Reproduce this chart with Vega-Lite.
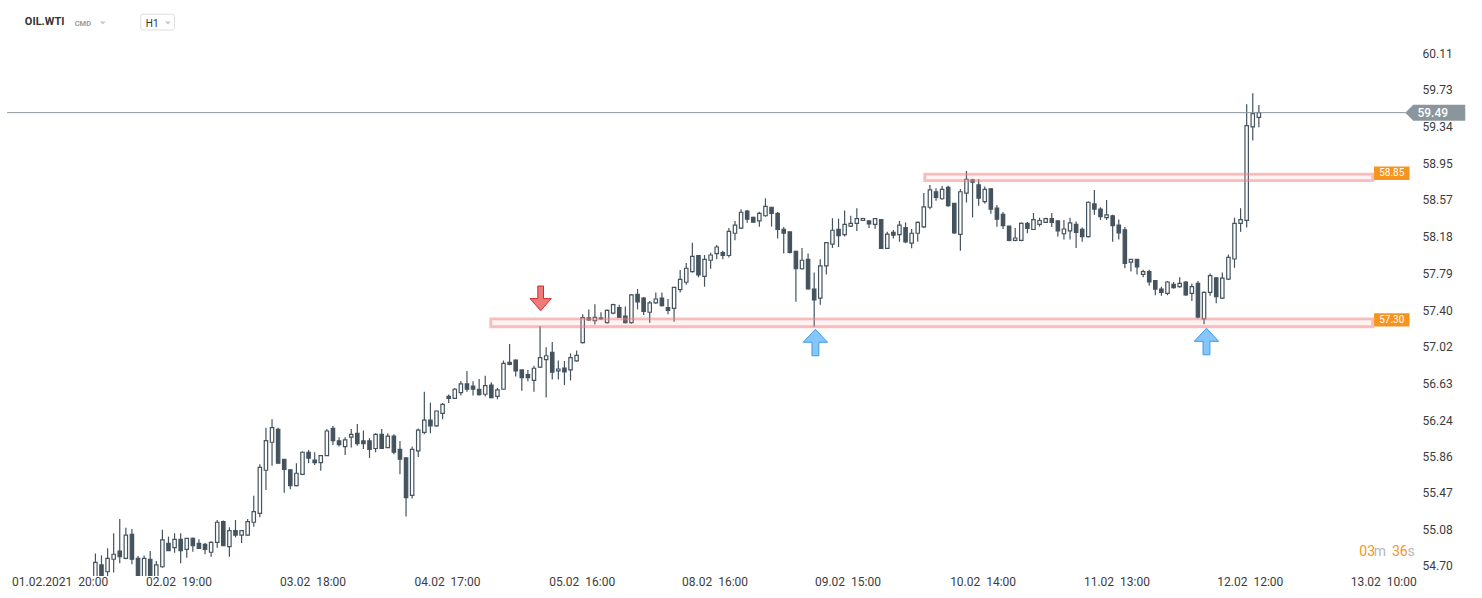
{
  "$schema": "https://vega.github.io/schema/vega-lite/v6.json",
  "width": 1482,
  "height": 576,
  "autosize": {"type": "none"},
  "padding": {"left": 0, "top": 0, "right": 0, "bottom": 22},
  "background": "#ffffff",
  "config": {"view": {"stroke": null}, "font": "Roboto"},
  "datasets": {
    "candles": [
      {"i":0,"o":54.55,"h":54.83,"l":54.45,"c":54.737},
      {"i":1,"o":54.71,"h":54.81,"l":54.45,"c":54.55},
      {"i":2,"o":54.637,"h":54.885,"l":54.55,"c":54.779},
      {"i":3,"o":54.769,"h":55.044,"l":54.63,"c":54.822},
      {"i":4,"o":54.856,"h":55.195,"l":54.727,"c":54.796},
      {"i":5,"o":54.779,"h":55.103,"l":54.77,"c":55.025},
      {"i":6,"o":55.033,"h":55.089,"l":54.716,"c":54.769},
      {"i":7,"o":54.779,"h":54.804,"l":54.5,"c":54.58},
      {"i":8,"o":54.58,"h":54.81,"l":54.5,"c":54.779},
      {"i":9,"o":54.769,"h":54.856,"l":54.5,"c":54.58},
      {"i":10,"o":54.58,"h":54.75,"l":54.5,"c":54.71},
      {"i":11,"o":54.69,"h":55.08,"l":54.68,"c":54.973},
      {"i":12,"o":54.938,"h":55.008,"l":54.86,"c":54.86},
      {"i":13,"o":54.891,"h":55.044,"l":54.838,"c":54.98},
      {"i":14,"o":54.98,"h":55.044,"l":54.727,"c":54.86},
      {"i":15,"o":54.874,"h":54.99,"l":54.785,"c":54.99},
      {"i":16,"o":54.99,"h":55.0,"l":54.849,"c":54.912},
      {"i":17,"o":54.938,"h":54.98,"l":54.885,"c":54.885},
      {"i":18,"o":54.927,"h":54.94,"l":54.822,"c":54.874},
      {"i":19,"o":54.843,"h":54.96,"l":54.796,"c":54.948},
      {"i":20,"o":54.948,"h":55.184,"l":54.891,"c":55.16},
      {"i":21,"o":55.166,"h":55.18,"l":54.91,"c":54.912},
      {"i":22,"o":54.902,"h":55.107,"l":54.796,"c":55.071},
      {"i":23,"o":55.071,"h":55.184,"l":55.0,"c":55.025},
      {"i":24,"o":55.025,"h":55.075,"l":54.94,"c":55.071},
      {"i":25,"o":55.025,"h":55.195,"l":55.02,"c":55.166},
      {"i":26,"o":55.16,"h":55.441,"l":55.113,"c":55.272},
      {"i":27,"o":55.255,"h":55.773,"l":55.213,"c":55.741},
      {"i":28,"o":55.71,"h":56.16,"l":55.501,"c":56.023},
      {"i":29,"o":56.006,"h":56.248,"l":55.758,"c":56.16},
      {"i":30,"o":56.143,"h":56.16,"l":55.78,"c":55.784},
      {"i":31,"o":55.826,"h":55.83,"l":55.472,"c":55.72},
      {"i":32,"o":55.713,"h":55.72,"l":55.51,"c":55.547},
      {"i":33,"o":55.547,"h":55.784,"l":55.54,"c":55.678},
      {"i":34,"o":55.667,"h":55.91,"l":55.66,"c":55.9},
      {"i":35,"o":55.9,"h":55.925,"l":55.784,"c":55.837},
      {"i":36,"o":55.818,"h":55.9,"l":55.765,"c":55.79},
      {"i":37,"o":55.79,"h":55.87,"l":55.705,"c":55.864},
      {"i":38,"o":55.864,"h":56.146,"l":55.86,"c":56.125},
      {"i":39,"o":56.153,"h":56.178,"l":55.977,"c":56.023},
      {"i":40,"o":56.02,"h":56.06,"l":55.96,"c":55.98},
      {"i":41,"o":55.96,"h":56.06,"l":55.871,"c":56.03},
      {"i":42,"o":56.06,"h":56.146,"l":55.95,"c":56.09},
      {"i":43,"o":56.1,"h":56.2,"l":55.97,"c":55.99},
      {"i":44,"o":56.02,"h":56.13,"l":55.935,"c":55.99},
      {"i":45,"o":56.02,"h":56.05,"l":55.84,"c":55.93},
      {"i":46,"o":55.94,"h":56.1,"l":55.9,"c":56.09},
      {"i":47,"o":56.09,"h":56.146,"l":55.94,"c":55.94},
      {"i":48,"o":55.95,"h":56.1,"l":55.95,"c":56.07},
      {"i":49,"o":56.07,"h":56.09,"l":55.88,"c":55.9},
      {"i":50,"o":55.93,"h":56.02,"l":55.667,"c":55.826},
      {"i":51,"o":55.84,"h":55.845,"l":55.22,"c":55.42},
      {"i":52,"o":55.445,"h":55.96,"l":55.41,"c":55.93},
      {"i":53,"o":55.914,"h":56.15,"l":55.85,"c":56.135},
      {"i":54,"o":56.11,"h":56.54,"l":56.09,"c":56.24},
      {"i":55,"o":56.24,"h":56.424,"l":56.1,"c":56.18},
      {"i":56,"o":56.18,"h":56.34,"l":56.17,"c":56.336},
      {"i":57,"o":56.312,"h":56.42,"l":56.248,"c":56.406},
      {"i":58,"o":56.49,"h":56.51,"l":56.42,"c":56.47},
      {"i":59,"o":56.47,"h":56.58,"l":56.47,"c":56.566},
      {"i":60,"o":56.53,"h":56.654,"l":56.5,"c":56.622},
      {"i":61,"o":56.622,"h":56.76,"l":56.54,"c":56.566},
      {"i":62,"o":56.6,"h":56.65,"l":56.5,"c":56.566},
      {"i":63,"o":56.566,"h":56.675,"l":56.5,"c":56.51},
      {"i":64,"o":56.513,"h":56.71,"l":56.49,"c":56.604},
      {"i":65,"o":56.61,"h":56.64,"l":56.47,"c":56.477},
      {"i":66,"o":56.49,"h":56.58,"l":56.46,"c":56.56},
      {"i":67,"o":56.566,"h":56.87,"l":56.56,"c":56.84},
      {"i":68,"o":56.85,"h":57.044,"l":56.82,"c":56.83},
      {"i":69,"o":56.875,"h":56.88,"l":56.7,"c":56.76},
      {"i":70,"o":56.77,"h":56.77,"l":56.55,"c":56.69},
      {"i":71,"o":56.72,"h":56.77,"l":56.65,"c":56.69},
      {"i":72,"o":56.66,"h":56.815,"l":56.54,"c":56.788},
      {"i":73,"o":56.8,"h":57.235,"l":56.79,"c":56.9},
      {"i":74,"o":56.88,"h":57.01,"l":56.48,"c":56.92},
      {"i":75,"o":56.957,"h":57.066,"l":56.67,"c":56.746},
      {"i":76,"o":56.76,"h":56.87,"l":56.67,"c":56.78},
      {"i":77,"o":56.79,"h":56.865,"l":56.61,"c":56.75},
      {"i":78,"o":56.77,"h":56.946,"l":56.66,"c":56.9},
      {"i":79,"o":56.865,"h":56.975,"l":56.86,"c":56.925},
      {"i":80,"o":57.06,"h":57.36,"l":57.05,"c":57.323},
      {"i":81,"o":57.32,"h":57.41,"l":57.29,"c":57.3},
      {"i":82,"o":57.29,"h":57.465,"l":57.25,"c":57.325},
      {"i":83,"o":57.32,"h":57.38,"l":57.3,"c":57.31},
      {"i":84,"o":57.27,"h":57.41,"l":57.26,"c":57.4},
      {"i":85,"o":57.37,"h":57.47,"l":57.36,"c":57.46},
      {"i":86,"o":57.43,"h":57.46,"l":57.32,"c":57.325},
      {"i":87,"o":57.34,"h":57.44,"l":57.26,"c":57.27},
      {"i":88,"o":57.27,"h":57.57,"l":57.26,"c":57.563},
      {"i":89,"o":57.57,"h":57.626,"l":57.41,"c":57.49},
      {"i":90,"o":57.53,"h":57.54,"l":57.35,"c":57.39},
      {"i":91,"o":57.38,"h":57.5,"l":57.27,"c":57.48},
      {"i":92,"o":57.48,"h":57.59,"l":57.47,"c":57.52},
      {"i":93,"o":57.53,"h":57.59,"l":57.44,"c":57.45},
      {"i":94,"o":57.43,"h":57.52,"l":57.36,"c":57.4},
      {"i":95,"o":57.42,"h":57.65,"l":57.28,"c":57.644},
      {"i":96,"o":57.62,"h":57.826,"l":57.59,"c":57.728},
      {"i":97,"o":57.697,"h":57.9,"l":57.67,"c":57.845},
      {"i":98,"o":57.81,"h":58.115,"l":57.8,"c":57.97},
      {"i":99,"o":57.98,"h":57.98,"l":57.75,"c":57.776},
      {"i":100,"o":57.76,"h":57.985,"l":57.65,"c":57.94},
      {"i":101,"o":57.93,"h":58.01,"l":57.84,"c":57.985},
      {"i":102,"o":58.0,"h":58.09,"l":57.94,"c":58.07},
      {"i":103,"o":58.01,"h":58.03,"l":57.94,"c":57.98},
      {"i":104,"o":57.98,"h":58.27,"l":57.96,"c":58.236},
      {"i":105,"o":58.215,"h":58.345,"l":58.14,"c":58.302},
      {"i":106,"o":58.27,"h":58.47,"l":58.26,"c":58.437},
      {"i":107,"o":58.45,"h":58.46,"l":58.327,"c":58.363},
      {"i":108,"o":58.384,"h":58.39,"l":58.33,"c":58.332},
      {"i":109,"o":58.345,"h":58.443,"l":58.285,"c":58.426},
      {"i":110,"o":58.4,"h":58.585,"l":58.39,"c":58.5},
      {"i":111,"o":58.49,"h":58.49,"l":58.285,"c":58.425},
      {"i":112,"o":58.426,"h":58.44,"l":58.16,"c":58.257},
      {"i":113,"o":58.257,"h":58.28,"l":58.0,"c":58.215},
      {"i":114,"o":58.23,"h":58.23,"l":58.0,"c":58.014},
      {"i":115,"o":58.025,"h":58.03,"l":57.49,"c":57.84},
      {"i":116,"o":57.84,"h":58.06,"l":57.83,"c":57.93},
      {"i":117,"o":57.94,"h":58.0,"l":57.62,"c":57.626},
      {"i":118,"o":57.626,"h":57.8,"l":57.227,"c":57.51},
      {"i":119,"o":57.53,"h":57.94,"l":57.46,"c":57.87},
      {"i":120,"o":57.87,"h":58.12,"l":57.78,"c":58.115},
      {"i":121,"o":58.1,"h":58.374,"l":58.06,"c":58.247},
      {"i":122,"o":58.257,"h":58.37,"l":58.07,"c":58.19},
      {"i":123,"o":58.2,"h":58.455,"l":58.18,"c":58.31},
      {"i":124,"o":58.29,"h":58.4,"l":58.28,"c":58.32},
      {"i":125,"o":58.32,"h":58.48,"l":58.24,"c":58.37},
      {"i":126,"o":58.35,"h":58.38,"l":58.35,"c":58.37},
      {"i":127,"o":58.345,"h":58.35,"l":58.27,"c":58.315},
      {"i":128,"o":58.31,"h":58.37,"l":58.26,"c":58.37},
      {"i":129,"o":58.36,"h":58.365,"l":58.05,"c":58.056},
      {"i":130,"o":58.056,"h":58.23,"l":58.05,"c":58.205},
      {"i":131,"o":58.225,"h":58.25,"l":58.16,"c":58.195},
      {"i":132,"o":58.2,"h":58.345,"l":58.125,"c":58.3},
      {"i":133,"o":58.275,"h":58.33,"l":58.11,"c":58.125},
      {"i":134,"o":58.11,"h":58.26,"l":58.056,"c":58.215},
      {"i":135,"o":58.215,"h":58.34,"l":58.125,"c":58.33},
      {"i":136,"o":58.283,"h":58.64,"l":58.27,"c":58.495},
      {"i":137,"o":58.49,"h":58.726,"l":58.47,"c":58.673},
      {"i":138,"o":58.654,"h":58.69,"l":58.56,"c":58.595},
      {"i":139,"o":58.58,"h":58.715,"l":58.57,"c":58.68},
      {"i":140,"o":58.7,"h":58.716,"l":58.495,"c":58.507},
      {"i":141,"o":58.53,"h":58.53,"l":58.21,"c":58.22},
      {"i":142,"o":58.204,"h":58.684,"l":58.03,"c":58.654},
      {"i":143,"o":58.64,"h":58.873,"l":58.54,"c":58.786},
      {"i":144,"o":58.78,"h":58.79,"l":58.383,"c":58.755},
      {"i":145,"o":58.726,"h":58.785,"l":58.507,"c":58.585},
      {"i":146,"o":58.55,"h":58.71,"l":58.53,"c":58.68},
      {"i":147,"o":58.684,"h":58.69,"l":58.42,"c":58.47},
      {"i":148,"o":58.48,"h":58.515,"l":58.285,"c":58.363},
      {"i":149,"o":58.416,"h":58.44,"l":58.26,"c":58.296},
      {"i":150,"o":58.29,"h":58.29,"l":58.13,"c":58.14},
      {"i":151,"o":58.14,"h":58.27,"l":58.13,"c":58.165},
      {"i":152,"o":58.14,"h":58.33,"l":58.13,"c":58.32},
      {"i":153,"o":58.32,"h":58.335,"l":58.215,"c":58.266},
      {"i":154,"o":58.255,"h":58.43,"l":58.25,"c":58.36},
      {"i":155,"o":58.31,"h":58.38,"l":58.285,"c":58.35},
      {"i":156,"o":58.33,"h":58.38,"l":58.33,"c":58.37},
      {"i":157,"o":58.37,"h":58.43,"l":58.28,"c":58.33},
      {"i":158,"o":58.345,"h":58.35,"l":58.18,"c":58.24},
      {"i":159,"o":58.21,"h":58.355,"l":58.15,"c":58.26},
      {"i":160,"o":58.24,"h":58.38,"l":58.15,"c":58.325},
      {"i":161,"o":58.31,"h":58.34,"l":58.06,"c":58.225},
      {"i":162,"o":58.257,"h":58.275,"l":58.125,"c":58.18},
      {"i":163,"o":58.18,"h":58.55,"l":58.17,"c":58.543},
      {"i":164,"o":58.525,"h":58.673,"l":58.41,"c":58.47},
      {"i":165,"o":58.47,"h":58.49,"l":58.355,"c":58.39},
      {"i":166,"o":58.38,"h":58.567,"l":58.355,"c":58.41},
      {"i":167,"o":58.4,"h":58.41,"l":58.125,"c":58.295},
      {"i":168,"o":58.3,"h":58.36,"l":58.15,"c":58.22},
      {"i":169,"o":58.25,"h":58.28,"l":57.845,"c":57.897},
      {"i":170,"o":57.91,"h":57.94,"l":57.81,"c":57.94},
      {"i":171,"o":57.94,"h":57.94,"l":57.78,"c":57.86},
      {"i":172,"o":57.78,"h":57.83,"l":57.75,"c":57.81},
      {"i":173,"o":57.81,"h":57.83,"l":57.66,"c":57.7},
      {"i":174,"o":57.715,"h":57.72,"l":57.56,"c":57.625},
      {"i":175,"o":57.625,"h":57.65,"l":57.555,"c":57.59},
      {"i":176,"o":57.58,"h":57.71,"l":57.56,"c":57.7},
      {"i":177,"o":57.675,"h":57.7,"l":57.63,"c":57.64},
      {"i":178,"o":57.65,"h":57.75,"l":57.64,"c":57.685},
      {"i":179,"o":57.7,"h":57.71,"l":57.555,"c":57.563},
      {"i":180,"o":57.58,"h":57.685,"l":57.5,"c":57.65},
      {"i":181,"o":57.685,"h":57.71,"l":57.315,"c":57.327},
      {"i":182,"o":57.31,"h":57.6,"l":57.253,"c":57.59},
      {"i":183,"o":57.59,"h":57.79,"l":57.555,"c":57.767},
      {"i":184,"o":57.745,"h":57.75,"l":57.475,"c":57.545},
      {"i":185,"o":57.53,"h":57.8,"l":57.52,"c":57.74},
      {"i":186,"o":57.73,"h":57.99,"l":57.72,"c":57.96},
      {"i":187,"o":57.943,"h":58.38,"l":57.85,"c":58.32},
      {"i":188,"o":58.32,"h":58.48,"l":58.23,"c":58.36},
      {"i":189,"o":58.352,"h":59.578,"l":58.275,"c":59.352},
      {"i":190,"o":59.34,"h":59.694,"l":59.195,"c":59.48},
      {"i":191,"o":59.44,"h":59.57,"l":59.335,"c":59.49}
    ],
    "levels": [
      {"level": 58.85, "top": 58.84, "bottom": 58.771, "start": 136.15, "end": 209.69},
      {"level": 57.30, "top": 57.311, "bottom": 57.227, "start": 64.9, "end": 209.69}
    ],
    "sellSignals": [{"i": 73.1, "price": 57.527}],
    "buySignals": [{"i": 118.2, "price": 57.06}, {"i": 182.4, "price": 57.07}],
    "last": [{"price": 59.49}]
  },
  "layer": [
    {
      "data": {"name": "candles"},
      "mark": {"type": "rule", "color": "#44535e", "strokeWidth": 1.2, "clip": true},
      "encoding": {
        "x": {
          "field": "i", "type": "quantitative", "title": null,
          "scale": {"domain": [-14.838, 226.81], "nice": false, "zero": false},
          "axis": {
            "values": [-5.87, 13.63, 35.66, 57.72, 79.83, 101.65, 123.46, 145.65, 167.62, 189.51, 211.41],
            "labelExpr": "datum.value < 0 ? '01.02.2021\u00a0\u00a020:00' : datum.value < 20 ? '02.02\u00a0\u00a019:00' : datum.value < 40 ? '03.02\u00a0\u00a018:00' : datum.value < 60 ? '04.02\u00a0\u00a017:00' : datum.value < 85 ? '05.02\u00a0\u00a016:00' : datum.value < 110 ? '08.02\u00a0\u00a016:00' : datum.value < 130 ? '09.02\u00a0\u00a015:00' : datum.value < 150 ? '10.02\u00a0\u00a014:00' : datum.value < 175 ? '11.02\u00a0\u00a013:00' : datum.value < 200 ? '12.02\u00a0\u00a012:00' : '13.02\u00a0\u00a010:00'",
            "domain": false, "ticks": false, "grid": false,
            "labelFont": "Roboto", "labelFontSize": 12, "labelColor": "#3c3c3c",
            "labelPadding": 0, "labelOverlap": false, "labelFlush": false, "labelBound": false
          }
        },
        "y": {
          "field": "l", "type": "quantitative", "title": null,
          "scale": {"domain": [54.592, 60.6808], "nice": false, "zero": false},
          "axis": {
            "orient": "right", "offset": -60,
            "values": [54.70, 55.08, 55.47, 55.86, 56.24, 56.63, 57.02, 57.40, 57.79, 58.18, 58.57, 58.95, 59.34, 59.73, 60.11],
            "format": ".2f",
            "domain": false, "ticks": false, "grid": false,
            "labelFont": "Roboto", "labelFontSize": 12, "labelColor": "#3c3c3c",
            "labelAlign": "left", "labelBaseline": "middle", "labelPadding": 0,
            "labelOverlap": false, "labelBound": false
          }
        },
        "y2": {"field": "h"}
      }
    },
    {
      "data": {"name": "candles"},
      "mark": {"type": "bar", "width": 3.4, "stroke": "#44535e", "strokeWidth": 1.2, "clip": true},
      "encoding": {
        "x": {"field": "i", "type": "quantitative", "title": null, "scale": {"domain": [-14.838, 226.81], "nice": false, "zero": false}},
        "y": {"field": "o", "type": "quantitative", "title": null, "scale": {"domain": [54.592, 60.6808], "nice": false, "zero": false}},
        "y2": {"field": "c"},
        "fill": {"condition": {"test": "datum.c < datum.o", "value": "#44535e"}, "value": "#ffffff"}
      }
    },
    {
      "data": {"name": "levels"},
      "mark": {"type": "rect", "fill": "#ff9a9a", "fillOpacity": 0.13, "stroke": "#f08080", "strokeOpacity": 0.5, "strokeWidth": 2.8},
      "encoding": {
        "x": {"field": "start", "type": "quantitative", "title": null, "scale": {"domain": [-14.838, 226.81], "nice": false, "zero": false}},
        "x2": {"field": "end"},
        "y": {"field": "top", "type": "quantitative", "title": null, "scale": {"domain": [54.592, 60.6808], "nice": false, "zero": false}},
        "y2": {"field": "bottom"}
      }
    },
    {
      "data": {"name": "last"},
      "mark": {"type": "rule", "color": "#8b969c", "strokeWidth": 1},
      "encoding": {
        "x": {"datum": -14.5, "type": "quantitative", "scale": {"domain": [-14.838, 226.81], "nice": false, "zero": false}},
        "x2": {"datum": 215.07},
        "y": {"field": "price", "type": "quantitative", "title": null, "scale": {"domain": [54.592, 60.6808], "nice": false, "zero": false}}
      }
    },
    {
      "data": {"name": "last"},
      "mark": {"type": "point", "filled": true, "shape": "M-1,0 L-0.733,-0.267 L1,-0.267 L1,0.267 L-0.733,0.267 Z", "size": 3600, "fill": "#8b969c", "opacity": 1, "strokeWidth": 0},
      "encoding": {
        "x": {"datum": 219.96, "type": "quantitative", "scale": {"domain": [-14.838, 226.81], "nice": false, "zero": false}},
        "y": {"field": "price", "type": "quantitative", "title": null, "scale": {"domain": [54.592, 60.6808], "nice": false, "zero": false}}
      }
    },
    {
      "data": {"name": "last"},
      "mark": {"type": "text", "align": "left", "baseline": "middle", "font": "Roboto", "fontSize": 12, "fontWeight": 500, "color": "#ffffff"},
      "encoding": {
        "x": {"datum": 217.03, "type": "quantitative", "scale": {"domain": [-14.838, 226.81], "nice": false, "zero": false}},
        "y": {"field": "price", "type": "quantitative", "title": null, "scale": {"domain": [54.592, 60.6808], "nice": false, "zero": false}},
        "text": {"field": "price", "type": "quantitative", "format": ".2f"}
      }
    },
    {
      "data": {"name": "levels"},
      "mark": {"type": "point", "filled": true, "shape": "M-1,-0.377 L1,-0.377 L1,0.377 L-1,0.377 Z", "size": 1260, "fill": "#f7941d", "opacity": 1, "strokeWidth": 0},
      "encoding": {
        "x": {"datum": 212.82, "type": "quantitative", "scale": {"domain": [-14.838, 226.81], "nice": false, "zero": false}},
        "y": {"field": "level", "type": "quantitative", "title": null, "scale": {"domain": [54.592, 60.6808], "nice": false, "zero": false}}
      }
    },
    {
      "data": {"name": "levels"},
      "mark": {"type": "text", "align": "center", "baseline": "middle", "font": "Roboto", "fontSize": 10, "color": "#ffffff"},
      "encoding": {
        "x": {"datum": 212.82, "type": "quantitative", "scale": {"domain": [-14.838, 226.81], "nice": false, "zero": false}},
        "y": {"field": "level", "type": "quantitative", "title": null, "scale": {"domain": [54.592, 60.6808], "nice": false, "zero": false}},
        "text": {"field": "level", "type": "quantitative", "format": ".2f"}
      }
    },
    {
      "data": {"name": "sellSignals"},
      "mark": {"type": "point", "filled": true, "shape": "M0,1 L0.86,0.02 L0.23,0.02 L0.23,-1 L-0.23,-1 L-0.23,0.02 L-0.86,0.02 Z", "size": 610, "fill": "#ef7a7a", "stroke": "#d42a2a", "strokeWidth": 1, "opacity": 1},
      "encoding": {
        "x": {"field": "i", "type": "quantitative", "title": null, "scale": {"domain": [-14.838, 226.81], "nice": false, "zero": false}},
        "y": {"field": "price", "type": "quantitative", "title": null, "scale": {"domain": [54.592, 60.6808], "nice": false, "zero": false}}
      }
    },
    {
      "data": {"name": "buySignals"},
      "mark": {"type": "point", "filled": true, "shape": "M0,-1 L0.92,-0.02 L0.26,-0.02 L0.26,1 L-0.26,1 L-0.26,-0.02 L-0.92,-0.02 Z", "size": 700, "fill": "#85c6fb", "stroke": "#3d9be9", "strokeWidth": 1, "opacity": 1},
      "encoding": {
        "x": {"field": "i", "type": "quantitative", "title": null, "scale": {"domain": [-14.838, 226.81], "nice": false, "zero": false}},
        "y": {"field": "price", "type": "quantitative", "title": null, "scale": {"domain": [54.592, 60.6808], "nice": false, "zero": false}}
      }
    },
    {
      "data": {"values": [{}]},
      "mark": {"type": "text", "text": "03", "align": "left", "baseline": "middle", "font": "Roboto", "fontSize": 14, "color": "#f7941d"},
      "encoding": {
        "x": {"datum": 207.5, "type": "quantitative", "scale": {"domain": [-14.838, 226.81], "nice": false, "zero": false}},
        "y": {"datum": 54.841, "type": "quantitative", "scale": {"domain": [54.592, 60.6808], "nice": false, "zero": false}}
      }
    },
    {
      "data": {"values": [{}]},
      "mark": {"type": "text", "text": "m", "align": "left", "baseline": "middle", "font": "Roboto", "fontSize": 14, "color": "#b8b8b8"},
      "encoding": {
        "x": {"datum": 209.84, "type": "quantitative", "scale": {"domain": [-14.838, 226.81], "nice": false, "zero": false}},
        "y": {"datum": 54.841, "type": "quantitative", "scale": {"domain": [54.592, 60.6808], "nice": false, "zero": false}}
      }
    },
    {
      "data": {"values": [{}]},
      "mark": {"type": "text", "text": "36", "align": "left", "baseline": "middle", "font": "Roboto", "fontSize": 14, "color": "#f7941d"},
      "encoding": {
        "x": {"datum": 212.84, "type": "quantitative", "scale": {"domain": [-14.838, 226.81], "nice": false, "zero": false}},
        "y": {"datum": 54.841, "type": "quantitative", "scale": {"domain": [54.592, 60.6808], "nice": false, "zero": false}}
      }
    },
    {
      "data": {"values": [{}]},
      "mark": {"type": "text", "text": "s", "align": "left", "baseline": "middle", "font": "Roboto", "fontSize": 14, "color": "#b8b8b8"},
      "encoding": {
        "x": {"datum": 215.4, "type": "quantitative", "scale": {"domain": [-14.838, 226.81], "nice": false, "zero": false}},
        "y": {"datum": 54.841, "type": "quantitative", "scale": {"domain": [54.592, 60.6808], "nice": false, "zero": false}}
      }
    },
    {
      "data": {"values": [{}]},
      "mark": {"type": "text", "text": "OIL.WTI", "align": "left", "baseline": "middle", "font": "Roboto", "fontSize": 11, "fontWeight": "bold", "color": "#333333"},
      "encoding": {
        "x": {"datum": -11.58, "type": "quantitative", "scale": {"domain": [-14.838, 226.81], "nice": false, "zero": false}},
        "y": {"datum": 60.443, "type": "quantitative", "scale": {"domain": [54.592, 60.6808], "nice": false, "zero": false}}
      }
    },
    {
      "data": {"values": [{}]},
      "mark": {"type": "text", "text": "CMD", "align": "left", "baseline": "middle", "font": "Roboto", "fontSize": 7.5, "fontWeight": "bold", "color": "#9a9a9a"},
      "encoding": {
        "x": {"datum": -3.4, "type": "quantitative", "scale": {"domain": [-14.838, 226.81], "nice": false, "zero": false}},
        "y": {"datum": 60.429, "type": "quantitative", "scale": {"domain": [54.592, 60.6808], "nice": false, "zero": false}}
      }
    },
    {
      "data": {"values": [{}]},
      "mark": {"type": "rect", "fill": "#ffffff", "stroke": "#dddddd", "strokeWidth": 1, "cornerRadius": 2},
      "encoding": {
        "x": {"datum": 7.45, "type": "quantitative", "scale": {"domain": [-14.838, 226.81], "nice": false, "zero": false}},
        "x2": {"datum": 12.99},
        "y": {"datum": 60.53, "type": "quantitative", "scale": {"domain": [54.592, 60.6808], "nice": false, "zero": false}},
        "y2": {"datum": 60.364}
      }
    },
    {
      "data": {"values": [{}]},
      "mark": {"type": "text", "text": "H1", "align": "left", "baseline": "middle", "font": "Roboto", "fontSize": 10, "color": "#333333"},
      "encoding": {
        "x": {"datum": 8.27, "type": "quantitative", "scale": {"domain": [-14.838, 226.81], "nice": false, "zero": false}},
        "y": {"datum": 60.43, "type": "quantitative", "scale": {"domain": [54.592, 60.6808], "nice": false, "zero": false}}
      }
    },
    {
      "data": {"values": [{"k": 1.22}, {"k": 11.9}]},
      "mark": {"type": "point", "filled": true, "shape": "M-1,-0.5 L1,-0.5 L0,0.5 Z", "size": 36, "fill": "#c8c8c8", "opacity": 1, "strokeWidth": 0},
      "encoding": {
        "x": {"field": "k", "type": "quantitative", "title": null, "scale": {"domain": [-14.838, 226.81], "nice": false, "zero": false}},
        "y": {"datum": 60.438, "type": "quantitative", "scale": {"domain": [54.592, 60.6808], "nice": false, "zero": false}}
      }
    }
  ]
}
